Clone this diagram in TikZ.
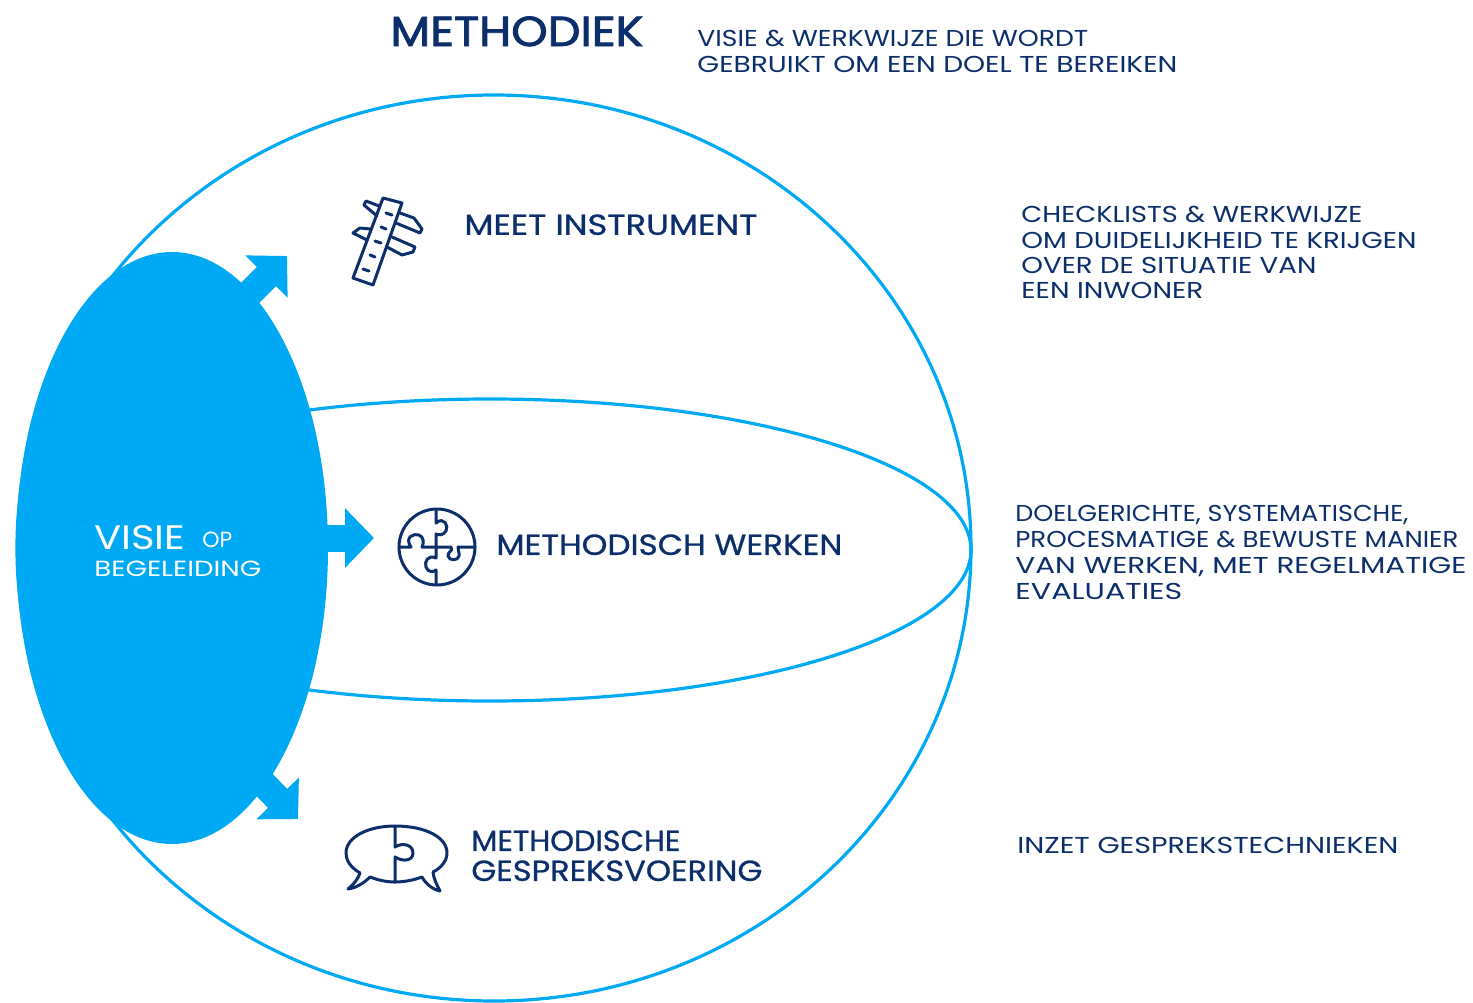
\documentclass[tikz,border=0pt]{standalone}
\usepackage{fontspec}
\usepackage{graphicx}
\setmainfont{Poppins}
\usetikzlibrary{arrows.meta,shapes.geometric}
\definecolor{skyb}{HTML}{00A9F4}
\definecolor{navy}{HTML}{0C2F6B}
\newcommand{\fitl}[2]{\resizebox{#1\dimexpr 0.5pt\relax}{\height}{#2}}
\tikzset{
  x=0.5pt,y=-0.5pt,
  orbit/.style={draw=skyb,line width=1.6pt,fill=none},
  core/.style={fill=skyb,draw=none,ellipse,inner sep=0pt,minimum width=156pt,minimum height=296pt},
  spoke/.style={draw=skyb,line width=13.5pt,-{Triangle[length=14.5pt,width=29pt,sep=0pt]}},
  icon/.style={draw=navy,line width=1.5pt,line cap=round,line join=round},
  headtext/.style={text=navy,anchor=north west,inner sep=0pt,align=left,font=\fontsize{21}{24}\selectfont\addfontfeature{FakeBold=2}},
  labeltext/.style={text=navy,anchor=north west,inner sep=0pt,align=left,font=\fontsize{14.5}{15}\selectfont\addfontfeature{FakeBold=0.8}},
  notetext/.style={text=navy,anchor=north west,inner sep=0pt,align=left,font=\fontsize{11.5}{12.7}\selectfont},
  whitetext/.style={text=white,anchor=north west,inner sep=0pt,align=left}
}
\begin{document}
\begin{tikzpicture}
\useasboundingbox (0,0) rectangle (1473,1002);
% spheres
\draw[orbit] (494,548) ellipse [x radius=477,y radius=453];
\begin{scope}
\clip (200,380) rectangle (1000,720);
\draw[orbit] (490,550) ellipse [x radius=481,y radius=151];
\end{scope}
\node[core] (visie) at (172,548) {};
% arrows
\coordinate (tipa) at (287,256);
\coordinate (tipb) at (374,538);
\coordinate (tipc) at (298,819);
\coordinate (sa) at (225,318);
\coordinate (sb) at (300,538);
\coordinate (sc) at (230,750);
\draw[spoke] (sa) -- (tipa);
\draw[spoke] (sb) -- (tipb);
\draw[spoke] (sc) -- (tipc);
% ruler icon
\draw[icon] (383,198) -- (402,203) -- (373,285) -- (353,278) -- cycle;
\draw[icon] (379,206) -- (366,201) -- (364,205) -- (377,216);
\draw[icon] (400,213) -- (414,218) -- (422,229) -- (420,233) -- (396,223);
\draw[icon] (370,229) -- (360,228) -- (353,233) -- (367,240);
\draw[icon] (392,237) -- (415,247) -- (413,252) -- (402,255) -- (387,247);
\draw[icon] (386,213) -- (392,215) (381,227) -- (386,229) (375,241) -- (381,243) (370,255) -- (375,257) (363,269) -- (369,271);
% puzzle icon
\draw[icon] (437,547) circle [radius=38];
\draw[icon] (436,510) -- (436,523) .. controls (444,516) and (449,526) .. (446,531) .. controls (443,536) and (438,535) .. (436,534) -- (436,547);
\draw[icon] (399,547) -- (411,547) .. controls (404,537) and (414,533) .. (419,535) .. controls (424,537) and (424,543) .. (422,547) -- (451,547) .. controls (454,551) and (447,552) .. (448,556) .. controls (449,561) and (458,561) .. (459,556) .. controls (460,552) and (457,550) .. (458,547) -- (475,547);
\draw[icon] (436,547) -- (436,558) .. controls (428,554) and (424,562) .. (426,567) .. controls (428,573) and (434,572) .. (436,570) -- (436,584);
% speech icon
\draw[icon] (360,873) .. controls (350,867) and (346,860) .. (346,853) .. controls (346,837) and (368,826) .. (395,826) .. controls (425,826) and (447,837) .. (447,853) .. controls (447,861) and (441,868) .. (433,872) .. controls (434,880) and (437,885) .. (440,891) .. controls (432,889) and (426,884) .. (422,877) .. controls (414,880) and (404,882) .. (395,882) .. controls (386,882) and (378,880) .. (370,877) .. controls (364,883) and (356,888) .. (348,889) .. controls (354,884) and (358,879) .. (360,873) -- cycle;
\draw[icon] (395,826) -- (395,847) .. controls (403,842) and (413,845) .. (413,853) .. controls (413,861) and (403,862) .. (395,857) -- (395,882);
% texts
\node[headtext] (title) at (390,16) {\fitl{253}{METHODIEK}};
\node[notetext] (def) at (697,30) {\fitl{391}{VISIE \& WERKWIJZE DIE WORDT}\\\fitl{480}{GEBRUIKT OM EEN DOEL TE BEREIKEN}};
\node[labeltext] (meet) at (464,214) {\fitl{293}{MEET INSTRUMENT}};
\node[notetext] (meetnote) at (1021,206) {\fitl{341}{CHECKLISTS \& WERKWIJZE}\\\fitl{395}{OM DUIDELIJKHEID TE KRIJGEN}\\\fitl{295}{OVER DE SITUATIE VAN}\\\fitl{182}{EEN INWONER}};
\node[labeltext] (werken) at (496,534) {\fitl{346}{METHODISCH WERKEN}};
\node[notetext,font=\fontsize{11.5}{13}\selectfont] (werkennote) at (1015,505) {\fitl{393}{DOELGERICHTE, SYSTEMATISCHE,}\\\fitl{443}{PROCESMATIGE \& BEWUSTE MANIER}\\\fitl{451}{VAN WERKEN, MET REGELMATIGE}\\\fitl{167}{EVALUATIES}};
\node[labeltext] (gesprek) at (471,830) {\fitl{209}{METHODISCHE}\\\fitl{291}{GESPREKSVOERING}};
\node[notetext] (gespreknote) at (1017,837) {\fitl{381}{INZET GESPREKSTECHNIEKEN}};
\node[whitetext,font=\fontsize{17}{18}\selectfont] (vis) at (94,525) {\fitl{91}{VISIE}};
\node[whitetext,font=\fontsize{11}{12}\selectfont] (op) at (202,532) {\fitl{30}{OP}};
\node[whitetext,font=\fontsize{11}{12}\selectfont] (beg) at (94,561) {\fitl{167}{BEGELEIDING}};
\end{tikzpicture}
\end{document}
